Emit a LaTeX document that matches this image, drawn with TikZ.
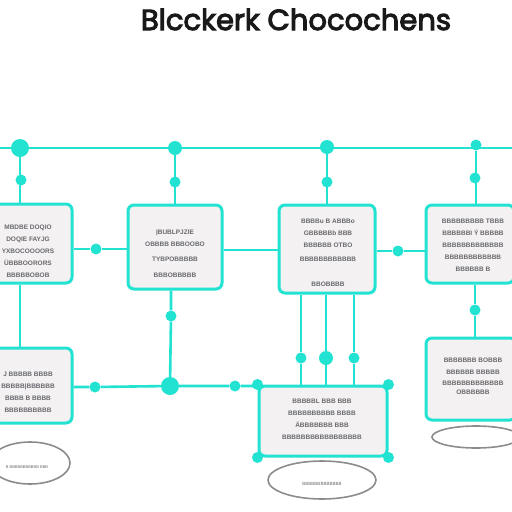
\documentclass[tikz,border=0pt]{standalone}
\usepackage{fontspec}
\setmainfont{Poppins}
\newfontfamily\titlefont[FakeBold=3.5]{Poppins}
\newfontfamily\boxfont{Liberation Sans}
\definecolor{teal1}{RGB}{34,226,210}
\definecolor{boxfill}{RGB}{243,241,242}
\definecolor{txtgray}{RGB}{105,105,110}
\definecolor{ringgray}{RGB}{140,140,140}
\tikzset{
  wire/.style={draw=teal1, line width=2.6pt},
  panel/.style={draw=teal1, line width=3pt, fill=boxfill, rounded corners=6pt},
  dotbig/.style={circle, fill=teal1, inner sep=0pt, minimum size=18pt},
  dotmid/.style={circle, fill=teal1, inner sep=0pt, minimum size=14pt},
  dotsml/.style={circle, fill=teal1, inner sep=0pt, minimum size=11pt},
  ring/.style={draw=ringgray, line width=1.6pt, ellipse},
  boxtxt/.style={text=txtgray, font=\boxfont\bfseries\fontsize{6.5}{12}\selectfont, align=center, inner sep=0pt},
}
\usetikzlibrary{shapes.geometric}
\begin{document}
\begin{tikzpicture}[x=1pt,y=-1pt]
\fill[white] (0,0) rectangle (512,512);
\clip (0,0) rectangle (512,512);
% title
\node[font=\titlefont\fontsize{29}{32}\selectfont, text=black!90, anchor=base] (title) at (296,30) {Blcckerk Chocochens};

% boxes (drawn as nodes)
\node[panel, minimum width=78pt, minimum height=79pt] (b1) at (33,243.5) {};
\node[panel, minimum width=94pt, minimum height=84pt] (b2) at (175,247) {};
\node[panel, minimum width=96pt, minimum height=88pt] (b3) at (327,249) {};
\node[panel, minimum width=88pt, minimum height=78pt] (b4) at (470,244) {};
\node[panel, minimum width=78pt, minimum height=75pt] (b5) at (33,385.5) {};
\node[panel, minimum width=128pt, minimum height=70pt] (b6) at (323,421) {};
\node[panel, minimum width=90pt, minimum height=82pt] (b7) at (471,379) {};

% ellipses
\node[ring, minimum width=80pt, minimum height=42pt] (e1) at (30,463) {};
\node[ring, minimum width=108pt, minimum height=38pt] (e2) at (322,480) {};
\node[ring, minimum width=88pt, minimum height=22pt] (e3) at (476,437) {};

% top bus
\coordinate (tl) at (0,148);
\coordinate (tr) at (512,148);
\draw[wire] (tl) -- (tr);
\node[dotbig] (t1) at (20,148) {};
\node[dotmid] (t2) at (175,148) {};
\node[dotmid] (t3) at (327,147) {};
\node[dotsml] (t4) at (476,145) {};
\node[dotsml] (s1) at (21,180) {};
\node[dotsml] (s2) at (175,182) {};
\node[dotsml] (s3) at (327,182) {};
\node[dotsml] (s4) at (475,178) {};
\draw[wire] (t1) -- (t1 |- b1.north);
\draw[wire] (t2) -- (t2 |- b2.north);
\draw[wire] (t3) -- (t3 |- b3.north);
\draw[wire] (t4) -- (t4 |- b4.north);

% row 1 links
\node[dotsml] (m1) at (96,249) {};
\draw[wire] (b1.east |- m1) -- (m1) -- (b2.west |- m1);
\coordinate (m2) at (250,250);
\draw[wire] (b2.east |- m2) -- (b3.west |- m2);
\node[dotsml] (m3) at (398,251) {};
\draw[wire] (b3.east |- m3) -- (m3) -- (b4.west |- m3);

% verticals to row 2
\draw[wire] (t1 |- b1.south) -- (t1 |- b5.north);
\node[dotbig] (j1) at (170,386) {};
\node[dotsml] (v2) at (171,316) {};
\draw[wire] (v2 |- b2.south) -- (v2) -- (j1);
\node[dotsml] (v3a) at (301,358) {};
\node[dotmid] (v3b) at (326,358) {};
\node[dotsml] (v3c) at (354,358) {};
\draw[wire] (v3a |- b3.south) -- (v3a) -- (v3a |- b6.north);
\draw[wire] (v3b |- b3.south) -- (v3b) -- (v3b |- b6.north);
\draw[wire] (v3c |- b3.south) -- (v3c) -- (v3c |- b6.north);
\node[dotsml] (v4) at (475,310) {};
\draw[wire] (v4 |- b4.south) -- (v4) -- (v4 |- b7.north);

% row 2 link
\node[dotsml] (r1) at (95,387) {};
\node[dotsml] (r2) at (235,386) {};
\draw[wire] (b5.east |- r1) -- (r1) -- (j1) -- (r2) -- (b6.west |- r2);

% corner dots of b6
\node[dotsml] at (b6.north west) {};
\node[dotsml] at (b6.north east) {};
\node[dotsml] at (b6.south west) {};
\node[dotsml] at (b6.south east) {};

% box texts
\node[boxtxt] (x1) at (28,251) {MBDBE DOQIO\\ DOQIE FAYJG\\ YXBOCOOOORS\\ ÜBBBOORORS\\ BBBBBOBOB};
\node[boxtxt] (x2) at (175,253.5) {ĮBUBLPJZIE\\ OBBBB BBBOOBO\\[3pt] TYBPOBBBBB\\[4pt] BBBOBBBBB};
\node[boxtxt] (x3) at (328,253) {BBBBu B ABBBo\\ GBBBBBb BBB\\ BBBBBB OTBO\\[2pt] BBBBBBBBBBBB\\[13pt] BBOBBBB};
\node[boxtxt] (x4) at (473,245.5) {BBBBBBBBB  TBBB\\ BBBBBBI Ý BBBBB\\ BBBBBBBBBBBBB\\ BBBBBBBBBBBB\\ BBBBBB B};
\node[boxtxt] (x5) at (28,392) {J BBBBB BBBB\\ BBBBB|BBBBBB\\ BBBB B BBBB\\ BBBBBBBBBB};
\node[boxtxt] (x6) at (322,419) {BBBBBL BBB BBB\\ BBBBBBBBBB BBBB\\ ÄBBBBBBB BBB\\ BBBBBBBBBBBBBBBBB};
\node[boxtxt] (x7) at (473,376) {BBBBBBB BOBBB\\ BBBBBB BBBBB\\[-1pt] BBBBBBBBBBBBB\\[-3pt] OBBBBBB};
\node[boxtxt, font=\boxfont\fontsize{4}{5}\selectfont] (x8) at (27,467) {B BBBBBBBBBBB BBB};
\node[boxtxt, font=\boxfont\fontsize{4.5}{5}\selectfont] (x9) at (322,484) {BBBBBBBBBBBBB};
\end{tikzpicture}
\end{document}
